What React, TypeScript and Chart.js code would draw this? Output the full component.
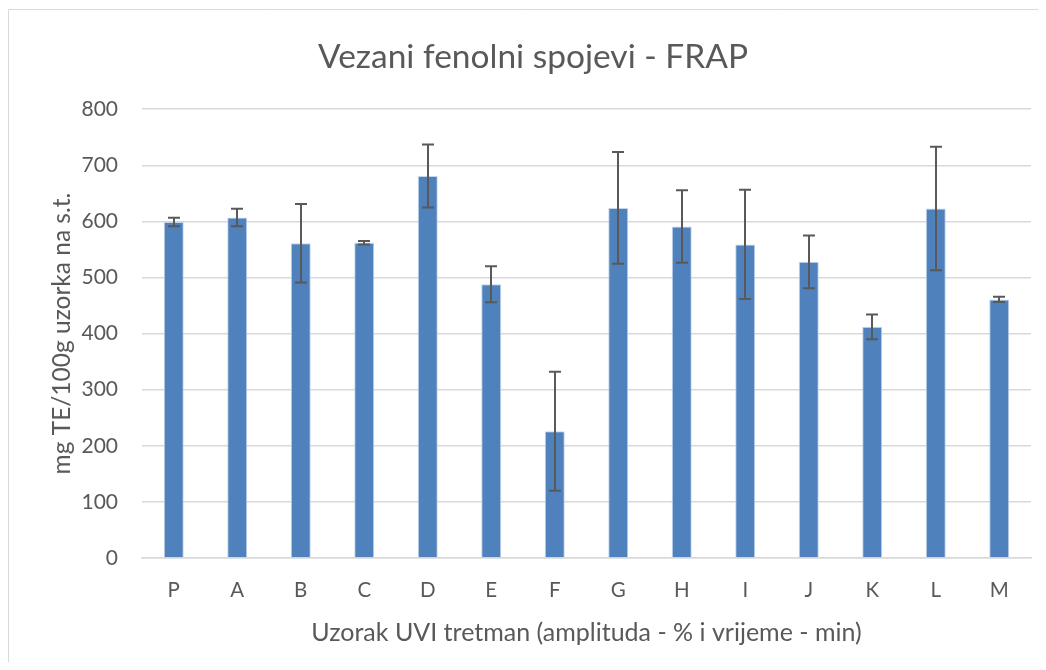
import React, { useEffect, useRef } from "react";
import { Chart, registerables } from "chart.js";

Chart.register(...registerables);

const categories = ["P", "A", "B", "C", "D", "E", "F", "G", "H", "I", "J", "K", "L", "M"];
const values = [599, 607, 561, 562, 681, 488, 226, 624, 591, 559, 528, 412, 623, 461];
const errors = [7.5, 15.5, 70, 3, 56, 32, 106, 99.5, 64.5, 97.5, 47, 22, 110, 4.5];
const yTicks = [0, 100, 200, 300, 400, 500, 600, 700, 800];

const titleText = "Vezani fenolni spojevi - FRAP";
const xTitle = "Uzorak UVI tretman (amplituda - % i vrijeme - min)";
const yTitle = "mg TE/100g uzorka na s.t.";

const FONT = "Lato, 'Open Sans', sans-serif";
const TEXT = "#595959";

const errorBarPlugin = {
  id: "errorBars",
  afterDatasetsDraw(chart: any) {
    const ctx = chart.ctx;
    const meta = chart.getDatasetMeta(0);
    const y = chart.scales.y;
    ctx.save();
    ctx.strokeStyle = "#595959";
    ctx.lineWidth = 2;
    meta.data.forEach((bar: any, i: number) => {
      const x = Math.round(bar.x);
      const top = y.getPixelForValue(values[i] + errors[i]);
      const bot = y.getPixelForValue(values[i] - errors[i]);
      ctx.beginPath();
      ctx.moveTo(x, top);
      ctx.lineTo(x, bot);
      ctx.moveTo(x - 6, top);
      ctx.lineTo(x + 6, top);
      ctx.moveTo(x - 6, bot);
      ctx.lineTo(x + 6, bot);
      ctx.stroke();
    });
    ctx.restore();
  },
};

const borderPlugin = {
  id: "outerBorder",
  afterDraw(chart: any) {
    const ctx = chart.ctx;
    ctx.save();
    ctx.strokeStyle = "#D9D9D9";
    ctx.lineWidth = 1;
    ctx.beginPath();
    ctx.moveTo(0.5, chart.height);
    ctx.lineTo(0.5, 1.5);
    ctx.lineTo(chart.width, 1.5);
    ctx.stroke();
    ctx.restore();
  },
};

export default function App() {
  const ref = useRef<HTMLCanvasElement>(null);
  useEffect(() => {
    if (!ref.current) return;
    const chart = new Chart(ref.current, {
      type: "bar",
      data: {
        labels: categories,
        datasets: [
          {
            data: values,
            backgroundColor: "#4F81BD",
            borderColor: "rgba(190,210,235,0.9)",
            borderWidth: 1,
            barPercentage: 1,
            categoryPercentage: 0.315,
          },
        ],
      },
      options: {
        animation: false,
        responsive: true,
        maintainAspectRatio: false,
        layout: { padding: { left: 27, right: 7, top: 0, bottom: 0 } },
        plugins: {
          legend: { display: false },
          tooltip: { enabled: false },
          title: {
            display: true,
            text: titleText,
            color: TEXT,
            font: { family: FONT, size: 33.5, weight: "normal", lineHeight: 1.2 },
            padding: { top: 29, bottom: 32 },
          },
        },
        scales: {
          x: {
            grid: { display: false, drawTicks: false },
            border: { display: true, color: "#D9D9D9", width: 1.5 },
            ticks: { color: TEXT, font: { family: FONT, size: 20.5 }, padding: 20 },
            title: {
              display: true,
              text: xTitle,
              color: TEXT,
              font: { family: FONT, size: 25 },
              padding: { top: 0, bottom: 14 },
            },
            afterFit: (s: any) => {
              s.height = 104;
            },
          },
          y: {
            min: 0,
            max: 800,
            afterBuildTicks: (s: any) => {
              s.ticks = yTicks.map((v) => ({ value: v }));
            },
            grid: { color: "#D9D9D9", lineWidth: 1.5, drawTicks: false },
            border: { display: false },
            ticks: { color: TEXT, font: { family: FONT, size: 21 }, padding: 24 },
            title: {
              display: true,
              text: yTitle,
              color: TEXT,
              font: { family: FONT, size: 24.5 },
              padding: { top: 12, bottom: 0 },
            },
            afterFit: (s: any) => {
              s.width = 107;
            },
          },
        },
      },
      plugins: [errorBarPlugin, borderPlugin],
    });
    return () => chart.destroy();
  }, []);
  return (
    <div style={{ width: 1030, height: 654, position: "relative", background: "#fff" }}>
      <canvas ref={ref} />
    </div>
  );
}
